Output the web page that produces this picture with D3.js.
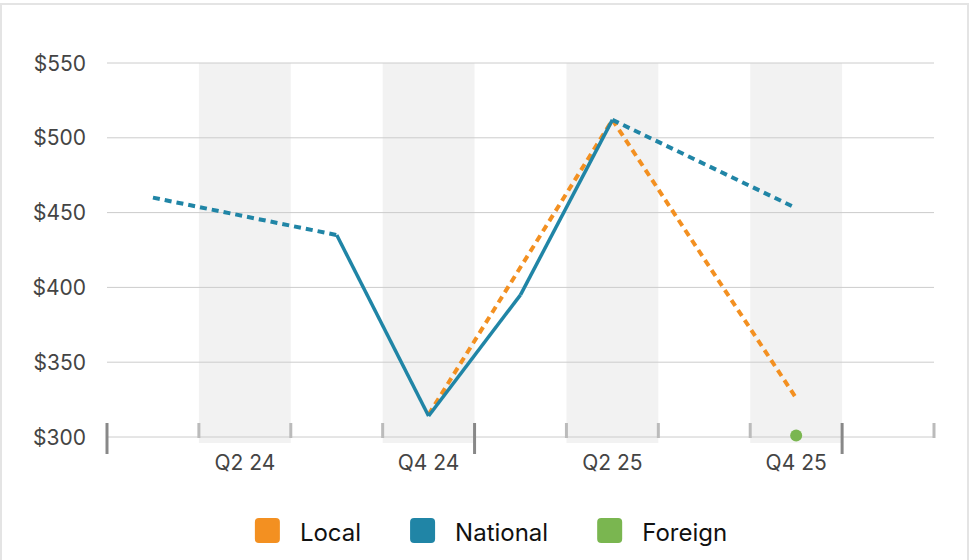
<!DOCTYPE html>
<html>
<head>
<meta charset="utf-8">
<script src="https://cdn.jsdelivr.net/npm/d3@7"></script>
<style>
  html, body { margin: 0; padding: 0; background: #fff; }
  svg { display: block; font-family: Inter, "Noto Sans", sans-serif; }
</style>
</head>
<body>
<svg id="chart" width="972" height="560"></svg>
<script>
const quarters = ["Q1 24", "Q2 24", "Q3 24", "Q4 24", "Q1 25", "Q2 25", "Q3 25", "Q4 25", "Q1 26"];
const shownLabels = ["Q2 24", "Q4 24", "Q2 25", "Q4 25"];
const shadedQuarters = ["Q2 24", "Q4 24", "Q2 25", "Q4 25"];
const yearStarts = ["Q1 24", "Q1 25", "Q1 26"];
const yTicks = [300, 350, 400, 450, 500, 550];

const localValues    = [null, null, null, 315, null, 512, null, 326, null];
const nationalValues = [460, null, 435, 314, 395, 512, null, 453, null];
const foreignValues  = [null, null, null, null, null, null, null, 301, null];

const seriesNames = ["Local", "National", "Foreign"];
const seriesColors = ["#F39021", "#2085A6", "#7AB650"];
const seriesValues = [localValues, nationalValues, foreignValues];

const svg = d3.select("#chart");
const W = 972, H = 560;

// outer frame
svg.append("rect").attr("x", 1).attr("y", 4).attr("width", 967).attr("height", 600)
  .attr("fill", "none").attr("stroke", "#e4e4e4").attr("stroke-width", 2);

const x = d3.scaleBand().domain(quarters).range([107, 934]).padding(0);
const y = d3.scaleLinear().domain([300, 550]).range([437, 63]);

// shaded bands
svg.append("g").selectAll("rect").data(shadedQuarters).join("rect")
  .attr("x", d => x(d)).attr("y", y(550))
  .attr("width", x.bandwidth()).attr("height", y(300) - y(550) + 6)
  .attr("fill", "#f2f2f2");

// gridlines
svg.append("g").selectAll("line").data(yTicks).join("line")
  .attr("x1", 107).attr("x2", 934)
  .attr("y1", d => y(d)).attr("y2", d => y(d))
  .attr("stroke", "#cccccc").attr("stroke-width", 1);

// y labels
svg.append("g").selectAll("text").data(yTicks).join("text")
  .attr("x", 86).attr("y", d => y(d)).attr("dy", "0.36em")
  .attr("text-anchor", "end").attr("font-size", 21).attr("fill", "#444")
  .text(d => "$" + d);

// light ticks at shaded band edges
const lightEdges = [];
shadedQuarters.forEach(q => { lightEdges.push(x(q)); lightEdges.push(x(q) + x.bandwidth()); });
lightEdges.push(934);
const darkEdges = yearStarts.map(q => x(q));
svg.append("g").selectAll("line").data(lightEdges.filter(e => !darkEdges.some(d => Math.abs(d - e) < 1))).join("line")
  .attr("x1", d => d).attr("x2", d => d)
  .attr("y1", 423).attr("y2", 438)
  .attr("stroke", "#bbbbbb").attr("stroke-width", 3);
svg.append("g").selectAll("line").data(darkEdges).join("line")
  .attr("x1", d => d).attr("x2", d => d)
  .attr("y1", 423).attr("y2", 454)
  .attr("stroke", "#888888").attr("stroke-width", 3);

// x labels
svg.append("g").selectAll("text").data(shownLabels).join("text")
  .attr("x", d => x(d) + x.bandwidth() / 2).attr("y", 470)
  .attr("text-anchor", "middle").attr("font-size", 21).attr("fill", "#444")
  .text(d => d);

// series
const cx = i => x(quarters[i]) + x.bandwidth() / 2;
const lineGen = d3.line().x(d => cx(d.i)).y(d => y(d.v));

seriesValues.forEach((vals, si) => {
  const pts = vals.map((v, i) => ({ i, v })).filter(d => d.v !== null);
  const color = seriesColors[si];
  const g = svg.append("g");
  if (pts.length === 1) {
    g.append("circle").attr("cx", cx(pts[0].i)).attr("cy", y(pts[0].v)).attr("r", 6).attr("fill", color);
    return;
  }
  for (let k = 0; k < pts.length - 1; k++) {
    const a = pts[k], b = pts[k + 1];
    const dashed = b.i - a.i > 1;
    g.append("path").datum([a, b])
      .attr("d", lineGen)
      .attr("fill", "none")
      .attr("stroke", color)
      .attr("stroke-width", dashed ? 4 : 3.5)
      .attr("stroke-linejoin", "round")
      .attr("stroke-dasharray", dashed ? "7,5" : null);
  }
});

// legend
const legend = svg.append("g");
let lx = 0;
seriesNames.forEach((name, i) => {
  const it = legend.append("g");
  it.append("rect").attr("x", 0).attr("y", 518).attr("width", 25).attr("height", 25).attr("rx", 4)
    .attr("fill", seriesColors[i]);
  const t = it.append("text").attr("x", 45).attr("y", 541).attr("font-size", 24).attr("fill", "#111").text(name);
  const w = 45 + t.node().getComputedTextLength();
  it.attr("transform", `translate(${lx},0)`);
  lx += w + 49;
});
const totalW = lx - 49;
legend.attr("transform", `translate(${491 - totalW / 2},0)`);
</script>
</body>
</html>
